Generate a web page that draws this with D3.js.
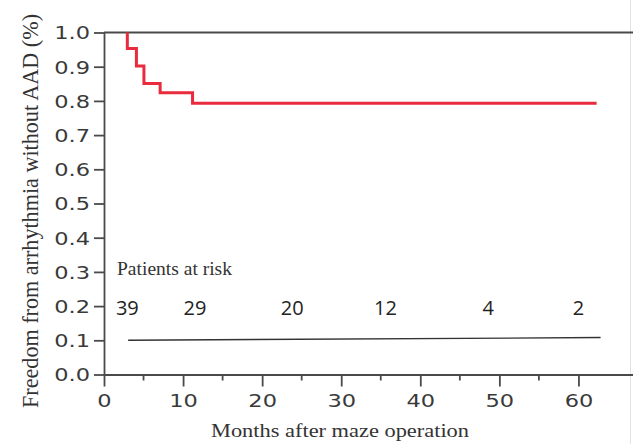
<!DOCTYPE html>
<html>
<head>
<meta charset="utf-8">
<script src="https://cdn.jsdelivr.net/npm/d3@7"></script>
<style>
body { margin: 0; background: #fff; }
.tick text { font-family: "DejaVu Sans", sans-serif; font-size: 18px; fill: #3a3a3a; }
</style>
</head>
<body>
<div id="container"></div>
<script>
// chart data
var kmMonths = [2.95, 2.95, 4.1, 5.05, 7.1, 11.2, 62.3];
var kmSurvival = [1.0, 0.953, 0.902, 0.851, 0.824, 0.793, 0.793];
var riskMonths = [2.95, 11.5, 23.8, 35.6, 48.6, 60.0];
var riskCounts = [39, 29, 20, 12, 4, 2];
var riskLineMonths = [3.05, 62.8];
var riskLineValues = [0.1, 0.108];
var xTicks = [0, 10, 20, 30, 40, 50, 60];
var xMinor = [5, 15, 25, 35, 45, 55];
var yTicks = [0, 0.1, 0.2, 0.3, 0.4, 0.5, 0.6, 0.7, 0.8, 0.9, 1.0];

var width = 633, height = 444;
var axisColor = "#4a4a4a";
var sx = 1.25; // the source figure is stretched sideways

var svg = d3.select("#container").append("svg")
	.attr("width", width)
	.attr("height", height);

var x = d3.scaleLinear().domain([0, 66.9]).range([104, 633]);
var y = d3.scaleLinear().domain([0, 1]).range([374.5, 32.5]);

// faint image border on the right
svg.append("line")
	.attr("x1", 630.5).attr("x2", 630.5)
	.attr("y1", 0).attr("y2", height)
	.attr("stroke", "#e2e2e2").attr("stroke-width", 1);

// top frame line
svg.append("line")
	.attr("x1", x(0)).attr("x2", x(66.9))
	.attr("y1", y(1)).attr("y2", y(1))
	.attr("stroke", axisColor).attr("stroke-width", 2);

var xAxis = d3.axisBottom(x).tickValues(xTicks).tickSize(12).tickSizeOuter(0).tickPadding(8)
	.tickFormat(d3.format("d"));
var gx = svg.append("g")
	.attr("transform", "translate(0," + y(0) + ")")
	.call(xAxis);
gx.select(".domain").attr("stroke", axisColor).attr("stroke-width", 1.8);
gx.selectAll(".tick line").attr("stroke", axisColor).attr("stroke-width", 1.8);
gx.selectAll(".tick text").attr("transform", "scale(" + sx + ",1)");

// minor ticks
gx.selectAll(".minor").data(xMinor).enter()
	.append("line")
	.attr("class", "minor")
	.attr("x1", function(d) { return x(d); })
	.attr("x2", function(d) { return x(d); })
	.attr("y1", 0).attr("y2", 6)
	.attr("stroke", axisColor).attr("stroke-width", 1.8);

var yAxis = d3.axisLeft(y).tickValues(yTicks).tickSize(10).tickSizeOuter(0).tickPadding(3)
	.tickFormat(d3.format(".1f"));
var gy = svg.append("g")
	.attr("transform", "translate(" + x(0) + ",0)")
	.call(yAxis);
gy.select(".domain").attr("stroke", axisColor).attr("stroke-width", 1.8);
gy.selectAll(".tick line").attr("stroke", axisColor).attr("stroke-width", 1.8);
gy.selectAll(".tick text")
	.attr("x", -14 / sx)
	.attr("dy", "0.36em")
	.attr("transform", "scale(" + sx + ",1)");

// Kaplan-Meier curve
var kmData = kmMonths.map(function(m, i) { return {m: m, s: kmSurvival[i]}; });
var line = d3.line()
	.x(function(d) { return x(d.m); })
	.y(function(d) { return y(d.s); })
	.curve(d3.curveStepAfter);

svg.append("path")
	.datum(kmData)
	.attr("d", line)
	.attr("fill", "none")
	.attr("stroke", "#ea2a3d")
	.attr("stroke-width", 3);

// patients at risk
svg.append("text")
	.attr("x", 117)
	.attr("y", 275)
	.attr("textLength", 115)
	.attr("lengthAdjust", "spacingAndGlyphs")
	.style("font-family", "'Liberation Serif', 'Times New Roman', serif")
	.style("font-size", "19px")
	.style("fill", "#333")
	.text("Patients at risk");

svg.selectAll(".risk").data(riskCounts).enter()
	.append("text")
	.attr("class", "risk")
	.attr("x", function(d, i) { return x(riskMonths[i]); })
	.attr("y", 315)
	.attr("text-anchor", "middle")
	.style("font-family", "'Open Sans', sans-serif")
	.style("font-size", "20px")
	.style("fill", "#222")
	.text(function(d) { return d; });

var riskLine = riskLineMonths.map(function(m, i) { return {m: m, s: riskLineValues[i]}; });
svg.append("path")
	.datum(riskLine)
	.attr("d", d3.line().x(function(d) { return x(d.m); }).y(function(d) { return y(d.s); }))
	.attr("stroke", "#333")
	.attr("stroke-width", 1.4)
	.attr("fill", "none");

// axis titles
svg.append("text")
	.attr("x", 340)
	.attr("y", 437)
	.attr("text-anchor", "middle")
	.attr("textLength", 258)
	.attr("lengthAdjust", "spacingAndGlyphs")
	.style("font-family", "'Liberation Serif', 'Times New Roman', serif")
	.style("font-size", "19px")
	.style("fill", "#333")
	.text("Months after maze operation");

svg.append("text")
	.attr("transform", "translate(38,211) rotate(-90) scale(1,1.2)")
	.attr("text-anchor", "middle")
	.attr("textLength", 394)
	.attr("lengthAdjust", "spacingAndGlyphs")
	.style("font-family", "'Liberation Serif', 'Times New Roman', serif")
	.style("font-size", "20px")
	.style("fill", "#333")
	.text("Freedom from arrhythmia without AAD (%)");
</script>
</body>
</html>
